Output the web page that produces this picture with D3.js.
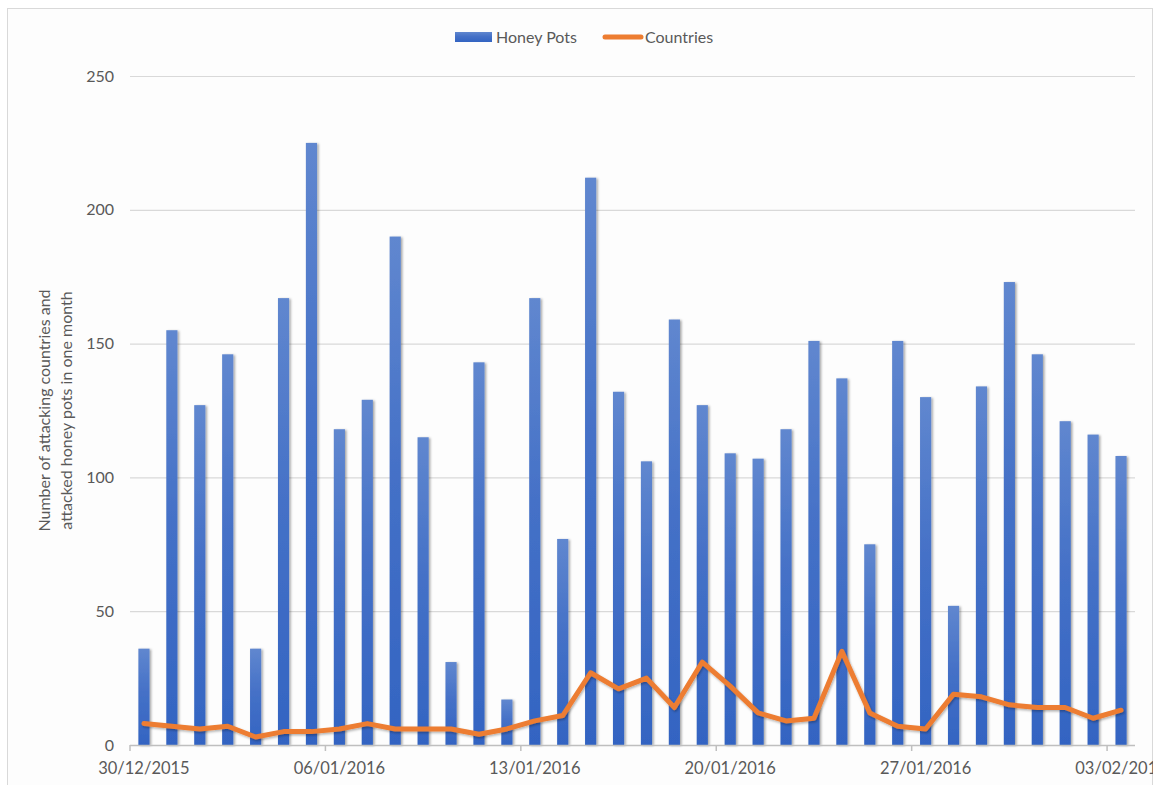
<!DOCTYPE html>
<html>
<head>
<meta charset="utf-8">
<script src="https://cdn.jsdelivr.net/npm/d3@7"></script>
<style>
  html, body { margin: 0; padding: 0; background: #ffffff; }
  svg { display: block; font-family: Lato, "Open Sans", sans-serif; }
</style>
</head>
<body>
<svg id="chart" width="1156" height="785"></svg>
<script>
// Daily attack counts, 30 Dec 2015 – 3 Feb 2016
const days = [
  "30/12/2015","31/12/2015","01/01/2016","02/01/2016","03/01/2016","04/01/2016",
  "05/01/2016","06/01/2016","07/01/2016","08/01/2016","09/01/2016","10/01/2016",
  "11/01/2016","12/01/2016","13/01/2016","14/01/2016","15/01/2016","16/01/2016",
  "17/01/2016","18/01/2016","19/01/2016","20/01/2016","21/01/2016","22/01/2016",
  "23/01/2016","24/01/2016","25/01/2016","26/01/2016","27/01/2016","28/01/2016",
  "29/01/2016","30/01/2016","31/01/2016","01/02/2016","02/02/2016","03/02/2016"
];
const honeyPots = [
  36, 155, 127, 146, 36, 167, 225, 118, 129, 190, 115, 31,
  143, 17, 167, 77, 212, 132, 106, 159, 127, 109, 107, 118,
  151, 137, 75, 151, 130, 52, 134, 173, 146, 121, 116, 108
];
const countries = [
  8, 7, 6, 7, 3, 5, 5, 6, 8, 6, 6, 6,
  4, 6, 9, 11, 27, 21, 25, 14, 31, 22, 12, 9,
  10, 35, 12, 7, 6, 19, 18, 15, 14, 14, 10, 13
];
const xTickLabels = ["30/12/2015","06/01/2016","13/01/2016","20/01/2016","27/01/2016","03/02/2016"];
const yTicks = [0, 50, 100, 150, 200, 250];
const seriesNames = ["Honey Pots", "Countries"];
const yTitleLines = ["Number of attacking countries and", "attacked honey pots in one month"];

const svg = d3.select("#chart");
const W = 1156, H = 785;
const plot = { left: 130, right: 1135, top: 76, bottom: 745 };

const defs = svg.append("defs");
const grad = defs.append("linearGradient")
  .attr("id", "barFill").attr("x1", 0).attr("y1", 0).attr("x2", 0).attr("y2", 1);
grad.append("stop").attr("offset", "0%").attr("stop-color", "#6087cf");
grad.append("stop").attr("offset", "45%").attr("stop-color", "#4571c7");
grad.append("stop").attr("offset", "100%").attr("stop-color", "#3364c2");

const shadow = defs.append("filter").attr("id", "shadow")
  .attr("x", "-50%").attr("y", "-5%").attr("width", "200%").attr("height", "110%");
shadow.append("feDropShadow").attr("dx", 1.6).attr("dy", 0.8)
  .attr("stdDeviation", 1.2).attr("flood-color", "#000").attr("flood-opacity", 0.35);

const lineShadow = defs.append("filter").attr("id", "lineShadow")
  .attr("x", "-5%").attr("y", "-20%").attr("width", "110%").attr("height", "140%");
lineShadow.append("feDropShadow").attr("dx", 1).attr("dy", 1.5)
  .attr("stdDeviation", 1.2).attr("flood-color", "#000").attr("flood-opacity", 0.3);

defs.append("clipPath").attr("id", "frameClip")
  .append("rect").attr("x", 7).attr("y", 8).attr("width", 1146).attr("height", H);

// Chart frame
svg.append("rect").attr("x", 7.5).attr("y", 8.5).attr("width", 1145).attr("height", H)
  .attr("fill", "#fdfdfd").attr("stroke", "#d9d9d9").attr("stroke-width", 1);

const root = svg.append("g").attr("clip-path", "url(#frameClip)");

const x = d3.scaleBand().domain(days).range([plot.left, plot.right]).paddingInner(0.6).paddingOuter(0.3);
const y = d3.scaleLinear().domain([0, 250]).range([plot.bottom, plot.top]);

// Horizontal gridlines and value labels
const yAxis = d3.axisLeft(y).tickValues(yTicks).tickSize(-(plot.right - plot.left)).tickPadding(16);
const gy = root.append("g").attr("transform", `translate(${plot.left},0)`).call(yAxis);
gy.select(".domain").remove();
gy.selectAll(".tick line").attr("stroke", "#d9d9d9").attr("stroke-width", 1.2)
  .filter(d => d === 0).remove();
gy.selectAll(".tick text").attr("fill", "#595959").attr("font-size", 16)
  .attr("font-family", "Lato, sans-serif");

// Bars
root.append("g").selectAll("rect").data(honeyPots).join("rect")
  .attr("x", (d, i) => x(days[i]))
  .attr("y", d => y(d))
  .attr("width", x.bandwidth())
  .attr("height", d => y(0) - y(d))
  .attr("fill", "url(#barFill)")
  .attr("filter", "url(#shadow)");

// Category axis: ticks on weekly band edges, labels centred on the band
const step = x.step();
const bandEdge = d => x(d) - (step - x.bandwidth()) / 2;
const gx = root.append("g");
gx.append("line").attr("x1", plot.left).attr("x2", plot.right)
  .attr("y1", plot.bottom + 0.5).attr("y2", plot.bottom + 0.5)
  .attr("stroke", "#bfbfbf").attr("stroke-width", 1.5);
const tick = gx.selectAll("g.xt").data(xTickLabels).join("g").attr("class", "xt");
tick.append("line")
  .attr("x1", d => bandEdge(d)).attr("x2", d => bandEdge(d))
  .attr("y1", plot.bottom).attr("y2", plot.bottom + 6)
  .attr("stroke", "#bfbfbf").attr("stroke-width", 1.5);
tick.append("text")
  .attr("x", d => x(d) + x.bandwidth() / 2)
  .attr("y", 774)
  .attr("text-anchor", "middle")
  .attr("fill", "#595959").attr("font-size", 16.5)
  .text(d => d);

// Countries line
const line = d3.line()
  .x((d, i) => x(days[i]) + x.bandwidth() / 2)
  .y(d => y(d));
root.append("path").datum(countries)
  .attr("d", line)
  .attr("fill", "none")
  .attr("stroke", "#ed7d31")
  .attr("stroke-width", 5)
  .attr("stroke-linejoin", "round")
  .attr("stroke-linecap", "round")
  .attr("filter", "url(#lineShadow)");

// Y axis title
const yTitle = root.append("text")
  .attr("transform", `translate(50, ${(plot.top + plot.bottom) / 2}) rotate(-90)`)
  .attr("text-anchor", "middle")
  .attr("fill", "#595959").attr("font-size", 16);
yTitle.selectAll("tspan").data(yTitleLines).join("tspan")
  .attr("x", 0).attr("dy", (d, i) => i === 0 ? 0 : 22)
  .text(d => d);

// Legend
const legend = root.append("g").attr("transform", "translate(0, 37)");
legend.append("rect").attr("x", 455).attr("y", -5).attr("width", 37).attr("height", 10)
  .attr("fill", "url(#barFill)");
legend.append("text").attr("x", 496).attr("y", 6).attr("fill", "#595959")
  .attr("font-size", 16).text(seriesNames[0]);
legend.append("line").attr("x1", 605).attr("x2", 641).attr("y1", 0).attr("y2", 0)
  .attr("stroke", "#ed7d31").attr("stroke-width", 5).attr("stroke-linecap", "round");
legend.append("text").attr("x", 645).attr("y", 6).attr("fill", "#595959")
  .attr("font-size", 16).text(seriesNames[1]);
</script>
</body>
</html>
